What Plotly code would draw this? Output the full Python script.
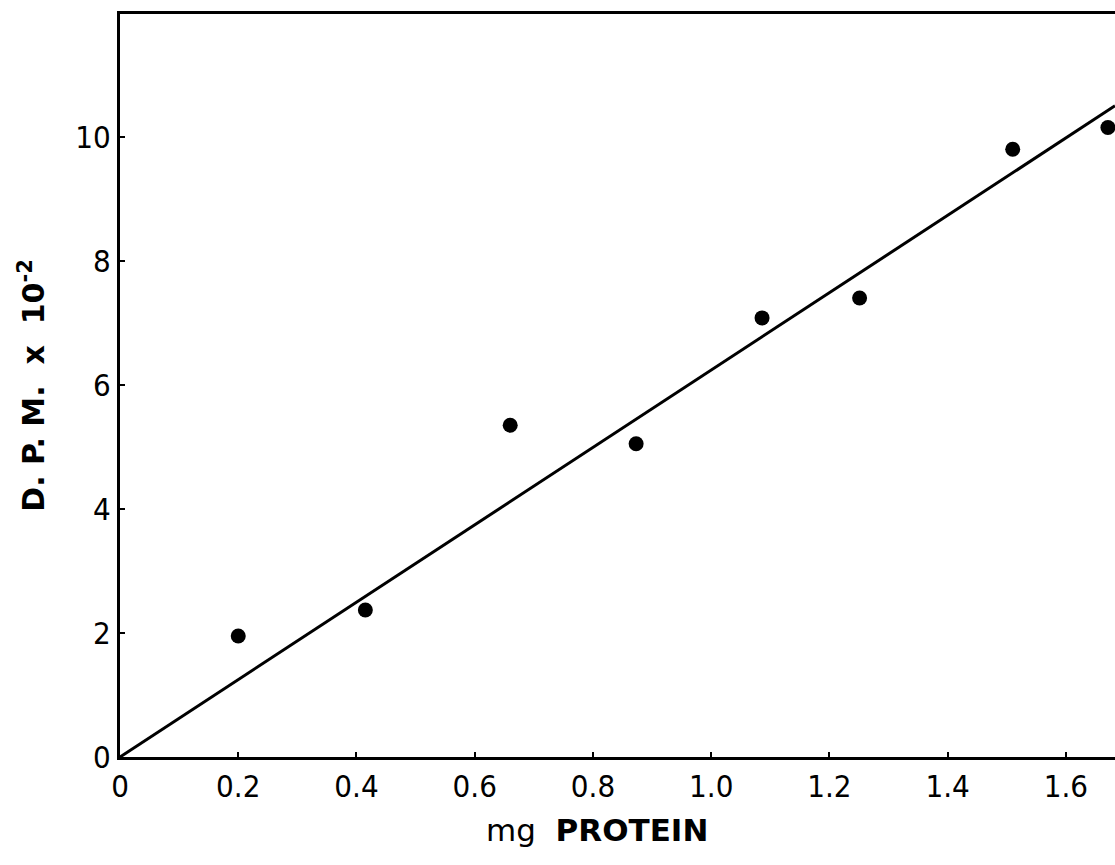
import plotly.graph_objects as go

# Data
protein_mg = [0.20, 0.415, 0.66, 0.873, 1.086, 1.251, 1.51, 1.671]
dpm_e2 = [1.95, 2.37, 5.35, 5.05, 7.08, 7.40, 9.80, 10.15]

# Regression line end points (through origin)
fit_x = [0.0, 1.683]
fit_y = [0.0, 10.50]

x_ticks = [0, 0.2, 0.4, 0.6, 0.8, 1.0, 1.2, 1.4, 1.6]
x_tick_labels = ["0", "0.2", "0.4", "0.6", "0.8", "1.0", "1.2", "1.4", "1.6"]
y_ticks = [0, 2, 4, 6, 8, 10]
y_tick_labels = ["0", "2", "4", "6", "8", "10"]

tick_font = dict(family="Liberation Sans Narrow, DejaVu Sans Condensed, sans-serif", size=31, color="black")
sp = "&nbsp;"

fig = go.Figure()
fig.add_trace(go.Scatter(x=fit_x, y=fit_y, mode="lines",
                         line=dict(color="black", width=3), showlegend=False))
fig.add_trace(go.Scatter(x=protein_mg, y=dpm_e2, mode="markers",
                         marker=dict(color="black", size=15), showlegend=False))

fig.update_layout(
    width=1115, height=865,
    margin=dict(l=120, r=0, t=14, b=108),
    paper_bgcolor="white", plot_bgcolor="white",
    xaxis=dict(range=[0, 1.683], tickvals=x_ticks, ticktext=x_tick_labels,
               showgrid=False, zeroline=False, showline=True, linecolor="black",
               linewidth=3, mirror=True, ticks="inside", ticklen=5, tickwidth=2,
               tickcolor="black", tickfont=tick_font),
    yaxis=dict(range=[0, 11.98], tickvals=y_ticks, ticktext=y_tick_labels,
               showgrid=False, zeroline=False, showline=True, linecolor="black",
               linewidth=3, ticks="inside", ticklen=5, tickwidth=2,
               tickcolor="black", tickfont=tick_font,
               title=dict(text="<b>D." + sp + "P." + sp + "M." + sp + " x" + sp + " 10<sup>-2</sup></b>",
                          font=dict(family="DejaVu Sans, sans-serif", size=30, color="black"),
                          standoff=22)),
    annotations=[dict(text="mg" + sp + " <b>PROTEIN</b>", xref="paper", yref="paper",
                      x=(597 - 120) / (1115 - 120), y=-0.098, xanchor="center", yanchor="middle",
                      showarrow=False,
                      font=dict(family="DejaVu Sans, sans-serif", size=31, color="black"))],
)

fig.write_html("out.html")
